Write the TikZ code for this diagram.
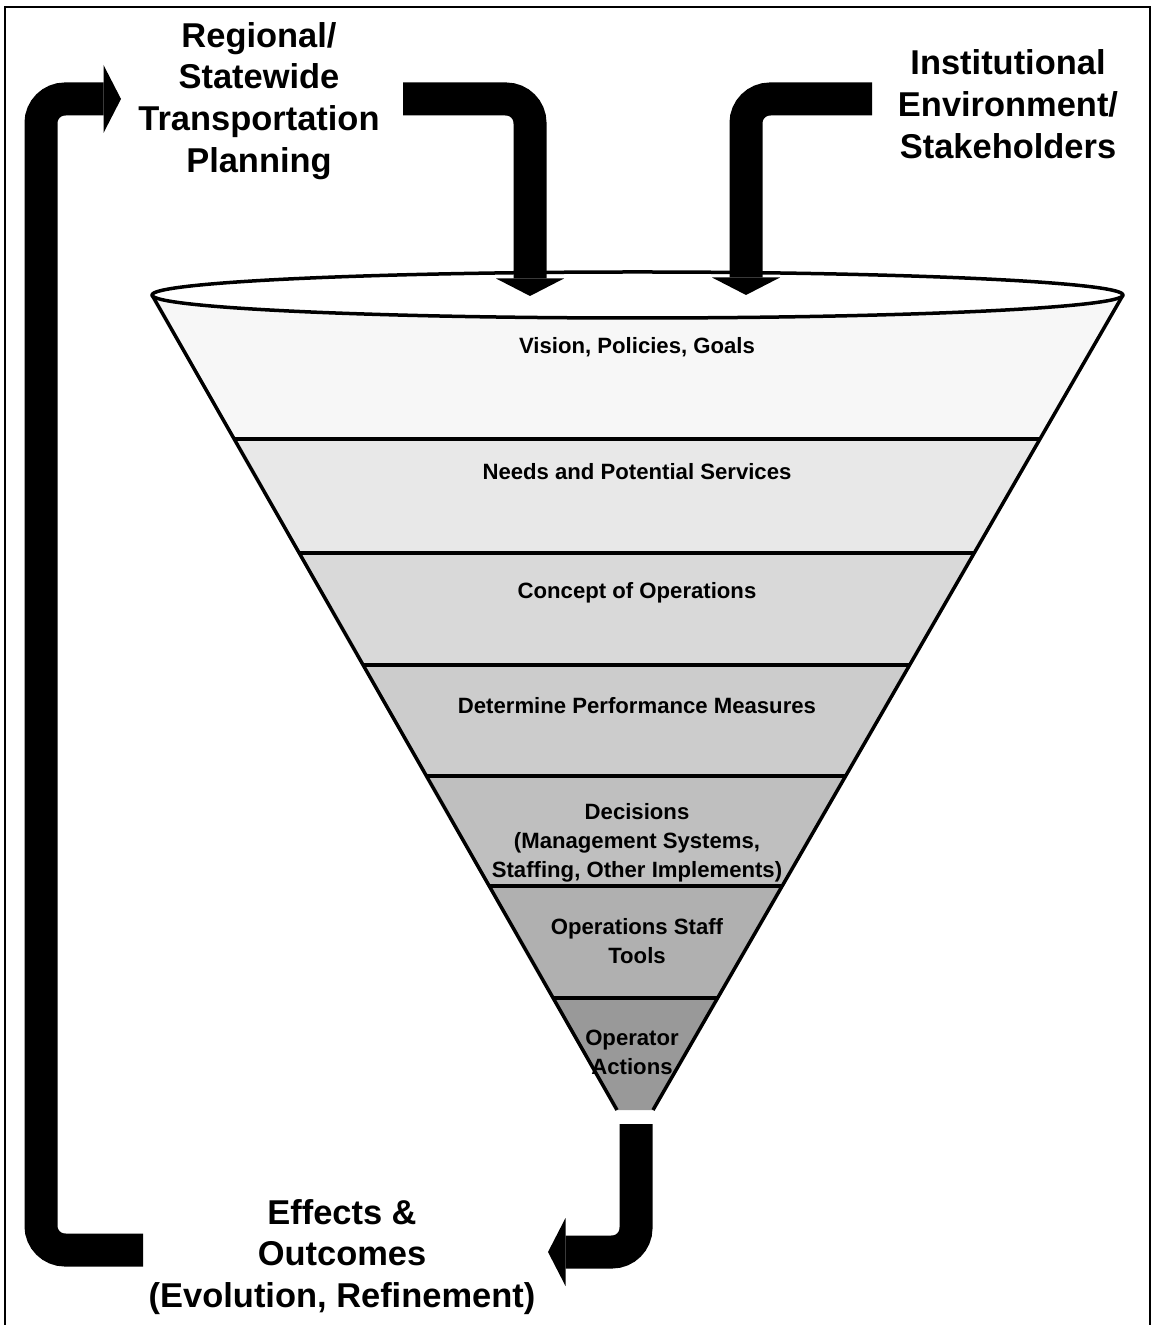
\documentclass[tikz,border=0pt]{standalone}
\usepackage{fontspec}
\setmainfont{Liberation Sans}
\usetikzlibrary{calc}
\usetikzlibrary{arrows.meta}

\tikzset{
  heading/.style={font=\fontsize{9.8}{11.9}\selectfont\bfseries, align=center, inner sep=0pt},
  layer/.style={font=\fontsize{6.3}{8.2}\selectfont\bfseries, align=center, inner sep=0pt},
  bigarrow/.style={line width=3.3mm, rounded corners=2.4mm,
    -{Triangle[length=1.75mm, width=6.8mm, line width=0pt]}},
  rim/.style={line width=0.35mm, line join=round},
}

\begin{document}
\begin{tikzpicture}[x=0.1mm,y=-0.1mm]
  \useasboundingbox (0,0) rectangle (1154,1325);
  \draw[line width=0.2mm] (5,1330) -- (5,7) -- (1150,7) -- (1150,1330);

  % funnel
  \coordinate (TL) at (152,295);
  \coordinate (TR) at (1123,295);
  \coordinate (BL) at (617,1110);
  \coordinate (BR) at (653,1110);
  \coordinate (L1) at ($(TL)!0.1767!(BL)$);
  \coordinate (R1) at ($(TR)!0.1767!(BR)$);
  \coordinate (L2) at ($(TL)!0.3166!(BL)$);
  \coordinate (R2) at ($(TR)!0.3166!(BR)$);
  \coordinate (L3) at ($(TL)!0.4540!(BL)$);
  \coordinate (R3) at ($(TR)!0.4540!(BR)$);
  \coordinate (L4) at ($(TL)!0.5902!(BL)$);
  \coordinate (R4) at ($(TR)!0.5902!(BR)$);
  \coordinate (L5) at ($(TL)!0.7252!(BL)$);
  \coordinate (R5) at ($(TR)!0.7252!(BR)$);
  \coordinate (L6) at ($(TL)!0.8626!(BL)$);
  \coordinate (R6) at ($(TR)!0.8626!(BR)$);
  \fill[black!3] (TL) -- (TR) -- (R1) -- (L1) -- cycle;
  \fill[black!9] (L1) -- (R1) -- (R2) -- (L2) -- cycle;
  \fill[black!15] (L2) -- (R2) -- (R3) -- (L3) -- cycle;
  \fill[black!20] (L3) -- (R3) -- (R4) -- (L4) -- cycle;
  \fill[black!25] (L4) -- (R4) -- (R5) -- (L5) -- cycle;
  \fill[black!31] (L5) -- (R5) -- (R6) -- (L6) -- cycle;
  \fill[black!40] (L6) -- (R6) -- (BR) -- (BL) -- cycle;
  \draw[rim] (L1) -- (R1) (L2) -- (R2) (L3) -- (R3) (L4) -- (R4) (L5) -- (R5) (L6) -- (R6);
  \draw[rim] (TL) -- (BL) (TR) -- (BR);
  \draw[rim, fill=white] (637.5,295) ellipse [x radius=485.5, y radius=23];

  \node[layer] (vision) at (637,347) {Vision, Policies, Goals};
  \node[layer] (needs) at (637,472) {Needs and Potential Services};
  \node[layer] (concept) at (637,593) {Concept of Operations};
  \node[layer] (measures) at (637,706) {Determine Performance Measures};
  \node[layer] (decisions) at (637,843) {Decisions\\(Management Systems,\\Staffing, Other Implements)};
  \node[layer] (tools) at (637,941) {Operations Staff\\Tools};
  \node[layer] (actions) at (632,1052) {Operator\\Actions};

  % inputs and outputs
  \node[heading] (regional) at (259,101) {Regional/\\Statewide\\Transportation\\Planning};
  \node[heading] (institutional) at (1008,104) {Institutional\\Environment/\\Stakeholders};
  \node[heading] (effects) at (342,1257) {Effects \&\\Outcomes\\(Evolution, Refinement)};

  \coordinate (regstart) at (403,99);
  \coordinate (regin) at (530,296);
  \coordinate (inststart) at (872,99);
  \coordinate (instin) at (746,295);
  \coordinate (funnelout) at (636,1124);
  \coordinate (effin) at (548,1252);
  \coordinate (fbstart) at (143,1250);
  \coordinate (fbturn) at (41,99);
  \coordinate (fbend) at (121,99);
  \draw[bigarrow] (regstart) -| (regin);
  \draw[bigarrow] (inststart) -| (instin);
  \draw[bigarrow] (funnelout) |- (effin);
  \draw[bigarrow] (fbstart) -| (fbturn) -- (fbend);
\end{tikzpicture}
\end{document}
